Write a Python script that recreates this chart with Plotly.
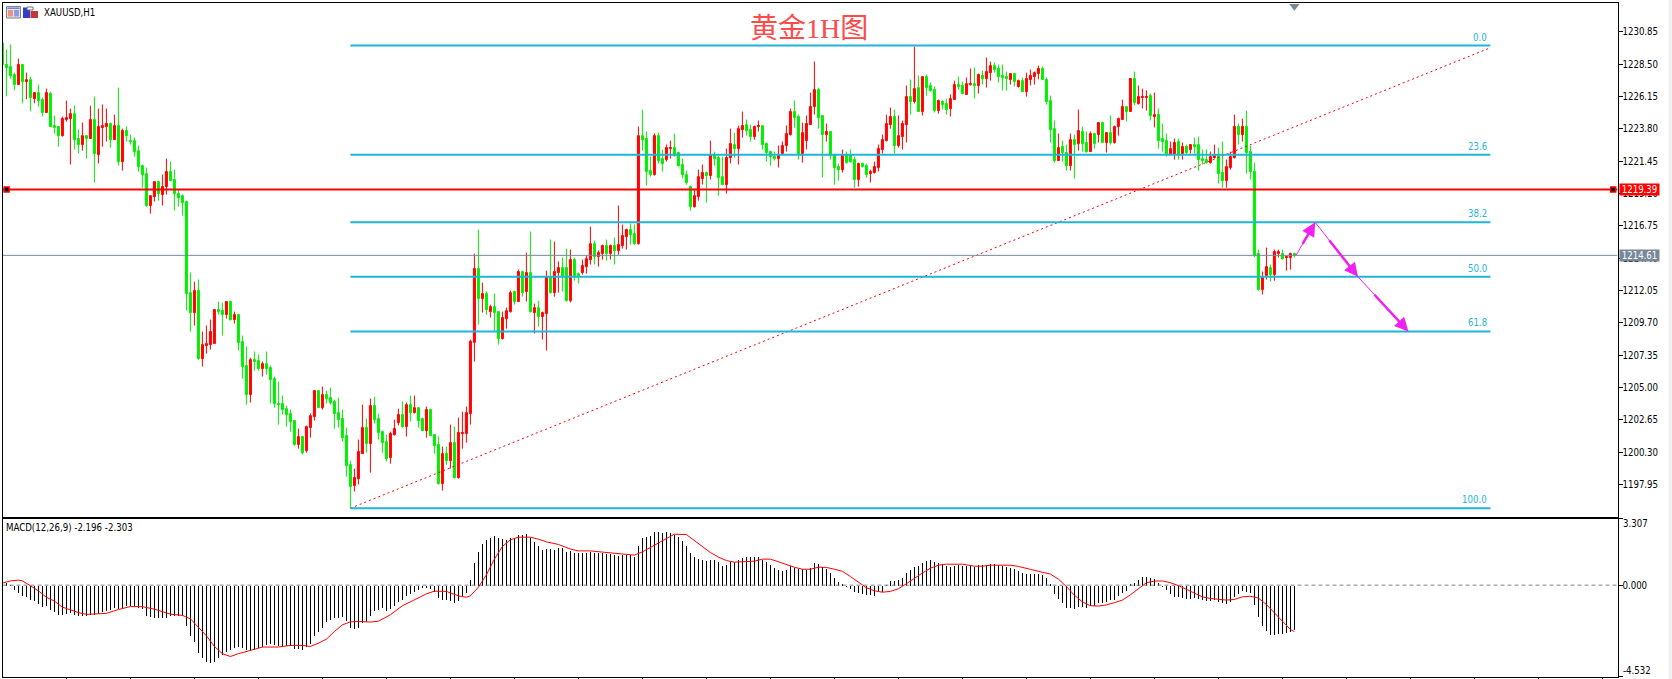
import plotly.graph_objects as go

WIDTH, HEIGHT = 1672, 679
PLOT_LEFT, PLOT_RIGHT = 2.5, 1617.5
MAIN_TOP, MAIN_BOTTOM = 2.5, 516.5
MACD_TOP, MACD_BOTTOM = 518.5, 676.5
LABEL_FONT = "DejaVu Sans Condensed, Liberation Sans, sans-serif"
LABEL_SIZE = 9.6

# Hourly XAUUSD candles, oldest first
opens = [
    1230.05,1228.48,1228.33,1227.75,1227.02,1228.48,1227.24,1227.38,1226.00,1226.44,
    1225.93,1224.99,1226.37,1224.04,1223.97,1223.31,1224.48,1224.55,1224.91,1223.10,
    1222.66,1223.31,1223.10,1224.48,1221.93,1223.90,1223.97,1224.19,1223.02,1224.04,
    1221.42,1223.68,1222.95,1222.95,1222.22,1221.13,1220.55,1218.23,1218.88,1219.97,
    1219.03,1219.61,1220.70,1220.12,1219.10,1218.95,1218.52,1211.90,1210.45,1212.05,
    1207.11,1208.05,1208.12,1208.20,1210.67,1210.60,1210.31,1211.25,1209.94,1210.31,
    1208.34,1206.60,1204.49,1207.03,1206.96,1206.38,1206.74,1206.45,1205.65,1203.84,
    1203.84,1203.47,1203.11,1202.60,1200.86,1201.44,1200.42,1202.09,1202.89,1204.78,
    1203.54,1204.49,1204.27,1203.98,1203.18,1202.75,1201.51,1199.40,1197.88,1198.38,
    1200.20,1202.09,1200.93,1203.69,1202.75,1201.80,1201.07,1199.91,1201.58,1202.45,
    1203.04,1202.16,1203.76,1203.18,1203.54,1202.75,1201.87,1203.40,1201.58,1200.86,
    1198.02,1200.20,1199.69,1201.00,1198.46,1201.66,1201.66,1203.11,1208.29,1213.65,
    1211.47,1211.83,1210.52,1210.88,1210.52,1208.56,1210.01,1210.52,1211.98,1211.25,
    1213.43,1211.98,1213.36,1210.45,1210.81,1210.16,1210.38,1213.07,1211.90,1213.36,
    1213.72,1213.72,1211.32,1214.30,1213.28,1213.36,1213.79,1214.30,1215.46,1214.52,
    1214.74,1215.32,1214.74,1215.32,1214.96,1215.32,1215.97,1216.48,1216.19,1215.46,
    1223.31,1223.10,1220.77,1220.48,1223.31,1221.64,1221.57,1222.37,1222.44,1222.08,
    1221.21,1220.48,1219.61,1218.15,1218.88,1220.19,1220.63,1220.41,1221.93,1221.72,
    1220.33,1219.75,1221.72,1222.66,1222.37,1223.75,1224.11,1223.75,1223.24,1223.97,
    1224.04,1222.73,1222.15,1221.79,1221.64,1222.01,1222.59,1223.39,1225.06,1224.70,
    1222.01,1222.95,1224.11,1225.42,1226.66,1224.77,1223.39,1223.61,1221.93,1221.06,
    1220.84,1221.93,1221.93,1221.57,1220.12,1221.28,1221.13,1220.55,1220.63,1220.99,
    1222.30,1222.95,1224.11,1224.70,1222.59,1223.24,1224.11,1226.15,1225.79,1226.80,
    1225.06,1227.60,1226.95,1226.66,1225.13,1225.79,1225.64,1225.28,1225.93,1227.02,
    1226.95,1226.30,1227.02,1227.09,1226.95,1227.68,1227.46,1227.89,1228.40,1228.19,
    1227.68,1227.60,1227.39,1227.82,1226.88,1227.31,1226.51,1227.39,1227.60,1227.82,
    1228.19,1227.39,1225.86,1223.82,1221.50,1222.52,1222.08,1221.13,1223.02,1222.73,
    1223.61,1222.81,1222.15,1223.46,1223.39,1224.26,1222.81,1223.53,1222.81,1223.97,
    1224.48,1225.42,1225.06,1227.46,1225.64,1226.08,1226.08,1226.22,1224.70,1224.84,
    1223.10,1222.95,1221.93,1221.93,1222.88,1222.01,1222.52,1222.30,1222.66,1222.66,
    1221.64,1221.57,1221.35,1221.72,1221.86,1220.63,1220.04,1220.99,1221.72,1223.97,
    1223.39,1223.97,1222.15,1220.70,1214.74,1212.12,1213.14,1213.72,1213.21,1214.74,
    1214.74,1214.45,1214.45,1214.74,
]
highs = [
    1231.99,1229.57,1229.93,1227.89,1228.91,1228.48,1227.89,1227.60,1226.44,1227.02,
    1226.08,1226.73,1226.51,1224.77,1223.97,1224.70,1225.86,1225.28,1225.49,1223.75,
    1224.26,1223.31,1225.49,1226.15,1225.28,1225.57,1225.28,1224.26,1224.84,1226.80,
    1223.82,1223.97,1223.39,1223.17,1222.59,1221.21,1220.99,1218.95,1219.97,1220.04,
    1220.48,1221.64,1221.42,1220.84,1219.39,1219.03,1218.59,1213.36,1212.70,1212.85,
    1209.07,1209.51,1209.94,1210.67,1211.25,1211.18,1211.25,1211.32,1210.52,1210.31,
    1208.78,1207.98,1207.18,1207.62,1207.40,1206.89,1207.62,1206.60,1205.80,1205.43,
    1204.42,1203.69,1203.40,1202.60,1202.02,1201.44,1202.24,1203.11,1204.78,1204.78,
    1205.07,1204.78,1205.00,1204.13,1204.27,1203.40,1202.09,1199.69,1199.11,1201.22,
    1203.76,1202.75,1204.20,1204.34,1203.11,1201.87,1201.58,1201.80,1202.67,1203.47,
    1203.98,1203.91,1204.42,1204.42,1203.54,1202.82,1203.62,1203.47,1201.58,1201.44,
    1200.71,1200.71,1202.31,1202.16,1202.82,1203.25,1203.62,1208.48,1214.74,1216.48,
    1212.63,1211.98,1211.03,1211.83,1210.52,1210.52,1210.81,1212.05,1212.05,1213.57,
    1213.50,1214.81,1216.34,1211.10,1211.32,1210.52,1213.50,1215.76,1215.61,1214.16,
    1214.45,1215.10,1215.03,1214.45,1213.36,1214.30,1214.59,1216.70,1215.68,1214.96,
    1215.39,1215.76,1215.39,1215.90,1218.23,1216.85,1216.55,1216.92,1216.85,1223.97,
    1225.20,1223.61,1221.79,1223.46,1223.53,1222.30,1222.66,1222.95,1223.46,1222.15,
    1221.64,1220.77,1219.68,1219.46,1220.84,1221.21,1220.70,1222.95,1222.15,1221.86,
    1221.79,1222.37,1223.82,1223.53,1224.04,1225.06,1224.48,1224.11,1224.04,1224.41,
    1224.04,1222.81,1222.22,1222.15,1222.59,1222.88,1224.04,1225.28,1225.86,1224.84,
    1224.26,1224.77,1226.44,1228.69,1226.80,1224.77,1224.19,1223.61,1221.93,1221.28,
    1222.30,1222.15,1222.30,1221.79,1221.35,1221.35,1221.28,1220.84,1221.42,1222.66,
    1223.39,1224.84,1225.35,1225.20,1224.77,1224.41,1226.95,1227.39,1229.78,1227.68,
    1227.60,1227.75,1227.17,1226.88,1225.93,1225.86,1226.00,1226.30,1227.31,1227.60,
    1227.24,1227.53,1228.19,1228.26,1227.82,1228.04,1228.98,1228.69,1228.62,1228.48,
    1228.48,1227.97,1227.82,1227.82,1227.39,1227.53,1227.89,1228.11,1227.97,1228.40,
    1228.33,1227.53,1226.22,1224.41,1223.46,1222.95,1222.66,1223.46,1223.39,1225.20,
    1223.97,1223.61,1223.61,1223.46,1224.26,1224.33,1223.53,1224.77,1224.04,1224.62,
    1225.93,1225.42,1227.46,1227.97,1226.95,1226.73,1226.59,1226.37,1226.44,1225.28,
    1224.19,1223.46,1222.88,1223.10,1223.10,1222.81,1222.66,1222.66,1223.17,1223.24,
    1222.30,1222.30,1222.15,1222.66,1222.44,1222.88,1221.57,1222.15,1224.84,1224.19,
    1224.55,1225.13,1222.59,1221.35,1215.03,1213.43,1215.17,1213.94,1215.03,1215.03,
    1215.03,1214.59,1214.81,1214.81,
]
lows = [
    1228.43,1226.17,1227.46,1226.61,1227.02,1225.66,1225.96,1225.08,1225.66,1225.42,
    1224.72,1224.99,1223.97,1223.46,1222.51,1223.24,1224.33,1221.21,1222.30,1222.01,
    1222.22,1221.64,1223.10,1219.90,1221.28,1222.51,1222.88,1222.44,1223.02,1221.13,
    1220.77,1222.88,1222.66,1221.79,1220.70,1219.53,1218.15,1217.64,1218.52,1218.59,
    1218.23,1219.03,1220.04,1217.86,1218.15,1217.50,1210.60,1209.07,1209.51,1207.03,
    1206.53,1207.47,1207.76,1208.20,1210.31,1208.78,1210.01,1209.87,1209.65,1207.69,
    1205.65,1203.76,1203.91,1206.23,1206.23,1205.80,1205.94,1203.84,1203.54,1202.31,
    1203.04,1202.16,1201.80,1200.78,1200.56,1200.13,1200.27,1201.36,1202.60,1203.54,
    1203.40,1203.84,1203.76,1202.02,1202.09,1201.07,1198.53,1196.23,1197.44,1197.95,
    1200.20,1200.27,1198.82,1202.38,1201.22,1200.27,1199.62,1199.47,1201.51,1202.24,
    1202.09,1201.44,1202.53,1203.11,1202.09,1201.87,1201.36,1201.51,1200.20,1197.95,
    1197.51,1199.40,1199.11,1198.38,1198.38,1200.56,1201.00,1202.31,1206.89,1209.58,
    1210.45,1210.30,1210.09,1209.07,1208.12,1208.49,1209.29,1210.45,1211.03,1211.25,
    1211.61,1211.25,1210.45,1208.92,1209.43,1208.49,1207.69,1211.83,1211.61,1211.90,
    1211.98,1211.25,1211.18,1212.77,1212.56,1213.21,1213.28,1213.94,1213.94,1213.79,
    1214.30,1214.23,1214.30,1213.94,1214.66,1215.10,1215.03,1215.39,1215.39,1215.39,
    1222.22,1219.68,1220.33,1220.41,1221.28,1220.70,1221.42,1221.64,1221.79,1221.06,
    1220.19,1219.75,1217.86,1218.08,1218.59,1219.75,1218.44,1220.12,1221.13,1218.95,
    1219.75,1219.10,1221.28,1221.72,1221.21,1223.17,1223.31,1222.88,1223.02,1223.61,
    1222.30,1221.42,1221.13,1221.50,1220.99,1221.93,1222.15,1223.31,1223.90,1221.57,
    1221.35,1222.30,1224.11,1224.84,1223.82,1220.26,1222.88,1221.57,1219.75,1220.04,
    1220.63,1221.28,1221.35,1219.53,1219.61,1220.99,1220.26,1219.90,1220.55,1220.70,
    1222.01,1222.88,1223.82,1222.01,1222.44,1222.30,1222.81,1224.84,1225.64,1225.06,
    1224.77,1226.22,1226.51,1224.99,1224.91,1225.20,1224.84,1224.70,1225.93,1226.66,
    1226.30,1226.30,1226.95,1226.00,1226.37,1227.02,1226.80,1227.31,1227.89,1227.17,
    1226.59,1226.59,1227.02,1226.88,1226.80,1226.51,1226.15,1226.95,1227.02,1227.39,
    1227.39,1225.57,1222.81,1221.35,1221.50,1221.42,1220.77,1220.77,1220.19,1222.22,
    1222.15,1222.08,1222.15,1222.37,1222.81,1222.81,1222.08,1222.66,1222.73,1223.31,
    1224.48,1224.33,1225.06,1225.50,1225.57,1225.28,1225.13,1224.41,1223.90,1222.37,
    1222.15,1221.79,1221.93,1221.57,1221.57,1221.57,1221.93,1222.01,1222.01,1220.77,
    1221.21,1221.28,1221.28,1221.64,1219.83,1219.53,1219.53,1220.84,1221.64,1222.66,
    1222.88,1220.55,1220.12,1214.49,1212.05,1211.76,1212.85,1212.70,1212.77,1214.45,
    1214.30,1213.50,1213.57,1214.45,
]
closes = [
    1228.48,1228.26,1227.68,1227.02,1228.48,1227.24,1227.38,1226.08,1226.44,1225.86,
    1224.99,1226.44,1223.97,1223.90,1223.31,1224.55,1224.62,1224.91,1223.02,1222.66,
    1223.31,1223.10,1224.48,1222.01,1223.97,1224.04,1224.19,1223.02,1224.04,1221.42,
    1223.68,1223.31,1222.88,1222.15,1221.06,1220.48,1218.23,1218.95,1219.97,1219.10,
    1219.61,1220.70,1220.04,1219.10,1218.81,1218.44,1211.83,1210.45,1212.05,1207.11,
    1208.12,1208.20,1209.07,1210.67,1210.52,1210.31,1211.25,1209.94,1210.31,1208.27,
    1206.53,1204.49,1207.03,1206.89,1206.38,1206.74,1206.38,1205.58,1203.84,1203.76,
    1203.40,1203.04,1202.53,1200.86,1201.44,1200.27,1202.16,1202.96,1204.78,1203.54,
    1204.49,1204.20,1203.91,1203.11,1202.67,1201.36,1199.33,1197.80,1198.46,1200.35,
    1202.09,1200.93,1203.69,1202.67,1201.73,1201.00,1199.84,1201.66,1202.02,1203.04,
    1202.16,1203.76,1203.18,1203.54,1202.60,1201.87,1203.40,1201.51,1200.78,1198.02,
    1200.20,1199.69,1201.00,1198.46,1201.73,1201.73,1203.18,1208.36,1213.65,1211.47,
    1211.83,1210.67,1210.88,1210.45,1208.56,1210.09,1210.59,1211.90,1211.25,1213.43,
    1211.90,1213.36,1210.52,1210.81,1210.16,1210.45,1213.07,1211.90,1213.43,1213.72,
    1213.07,1211.32,1214.30,1213.14,1213.07,1213.87,1214.37,1215.46,1214.52,1214.81,
    1215.32,1214.74,1215.32,1214.96,1215.39,1216.05,1216.48,1216.12,1215.46,1223.31,
    1223.02,1220.70,1220.48,1223.31,1221.50,1221.28,1222.44,1222.44,1221.86,1221.13,
    1220.48,1219.90,1218.15,1218.95,1220.33,1220.63,1220.41,1221.93,1221.64,1220.26,
    1219.75,1221.72,1222.73,1222.37,1223.82,1224.04,1223.68,1223.24,1223.97,1224.04,
    1222.66,1222.08,1221.79,1221.64,1221.93,1222.59,1223.46,1225.06,1224.62,1222.01,
    1223.53,1224.19,1225.42,1226.66,1224.62,1223.39,1223.61,1221.86,1220.99,1220.84,
    1221.86,1221.35,1221.42,1220.12,1221.28,1221.06,1220.48,1220.70,1221.06,1222.37,
    1223.02,1224.19,1224.70,1222.59,1223.31,1224.19,1226.15,1225.79,1226.73,1225.06,
    1227.60,1226.80,1226.59,1225.13,1225.86,1225.57,1225.20,1226.00,1227.02,1226.88,
    1226.37,1227.09,1227.09,1226.95,1227.75,1227.46,1227.97,1228.40,1228.11,1227.60,
    1227.53,1227.46,1227.82,1227.24,1227.31,1226.51,1227.46,1227.68,1227.89,1228.19,
    1227.39,1225.79,1223.75,1221.50,1222.44,1222.08,1221.13,1223.02,1222.66,1223.68,
    1222.73,1222.15,1223.46,1222.73,1224.26,1222.81,1223.53,1222.81,1223.97,1224.55,
    1225.42,1225.06,1227.46,1225.71,1226.15,1226.15,1226.15,1224.77,1224.84,1222.95,
    1222.88,1222.01,1222.37,1222.81,1221.93,1222.52,1222.08,1222.66,1222.52,1221.57,
    1221.50,1221.35,1221.79,1221.86,1220.55,1220.04,1221.06,1221.79,1223.97,1223.39,
    1223.97,1222.08,1220.70,1214.59,1212.12,1212.99,1213.79,1213.21,1214.88,1214.88,
    1214.37,1214.52,1214.74,1214.61,
]
bars = list(range(len(closes)))

# MACD(12,26,9) histogram, one value per candle
macd_hist = [
    0.07,0.13,0.02,-0.23,-0.36,-0.50,-0.56,-0.69,-0.76,-0.93,
    -1.06,-1.02,-1.22,-1.31,-1.47,-1.45,-1.42,-1.36,-1.47,-1.52,
    -1.49,-1.50,-1.44,-1.47,-1.39,-1.31,-1.26,-1.19,-1.09,-1.16,
    -1.09,-0.99,-1.02,-1.06,-1.09,-1.16,-1.49,-1.55,-1.59,-1.59,
    -1.62,-1.59,-1.52,-1.49,-1.49,-1.52,-2.02,-2.48,-2.78,-3.34,
    -3.60,-3.80,-3.84,-3.77,-3.57,-3.44,-3.27,-3.17,-3.11,-3.04,
    -3.11,-3.17,-3.24,-3.17,-3.11,-3.04,-2.94,-2.91,-2.94,-3.01,
    -3.04,-3.01,-2.98,-3.14,-3.14,-3.21,-3.04,-2.91,-2.51,-2.31,
    -2.08,-1.82,-1.69,-1.59,-1.59,-1.55,-1.75,-2.08,-2.15,-2.08,
    -1.85,-1.82,-1.49,-1.26,-1.19,-1.12,-1.26,-1.16,-1.02,-0.79,
    -0.69,-0.50,-0.40,-0.30,-0.23,-0.13,-0.10,-0.17,-0.30,-0.60,
    -0.69,-0.73,-0.76,-0.86,-0.76,-0.50,-0.36,0.26,1.12,1.65,
    2.05,2.25,2.38,2.45,2.38,2.31,2.28,2.35,2.38,2.51,
    2.51,2.55,2.35,2.15,1.95,1.79,1.82,1.82,1.79,1.85,
    1.85,1.65,1.72,1.64,1.60,1.60,1.62,1.65,1.62,1.62,
    1.64,1.59,1.55,1.50,1.45,1.52,1.52,1.52,1.42,1.95,
    2.35,2.40,2.45,2.65,2.65,2.60,2.65,2.60,2.50,2.40,
    2.20,1.95,1.60,1.41,1.31,1.26,1.21,1.26,1.26,1.16,
    0.96,1.01,1.16,1.16,1.26,1.36,1.41,1.41,1.41,1.41,
    1.26,1.16,1.01,0.86,0.76,0.71,0.76,0.96,0.86,0.81,
    0.81,0.76,0.86,1.11,1.06,0.91,0.81,0.61,0.36,0.17,
    0.07,-0.07,-0.15,-0.33,-0.36,-0.40,-0.45,-0.48,-0.53,-0.30,
    -0.30,0.01,0.21,0.21,0.26,0.36,0.61,0.76,0.91,0.96,
    1.11,1.21,1.26,1.16,1.11,1.06,0.96,0.91,0.96,1.01,
    0.96,0.96,0.96,0.91,1.01,1.01,1.01,1.06,1.06,1.01,
    0.96,0.91,0.86,0.81,0.71,0.61,0.56,0.56,0.56,0.56,
    0.51,0.36,0.07,-0.43,-0.68,-0.88,-1.12,-1.12,-1.17,-1.07,
    -1.07,-1.12,-1.02,-1.02,-0.88,-0.88,-0.83,-0.73,
    -0.71,-0.51,-0.38,-0.25,0.07,0.12,0.28,0.41,0.41,0.38,
    0.31,0.12,-0.08,-0.21,-0.41,-0.55,-0.55,-0.63,-0.68,-0.64,
    -0.60,-0.68,-0.71,-0.74,-0.74,-0.71,-0.81,-0.88,-0.91,-0.79,
    -0.55,-0.41,-0.25,-0.31,-0.38,-0.96,-1.54,-2.00,-2.23,-2.43,
    -2.43,-2.41,-2.40,-2.36,-2.30,-2.196,
]
hist_bars = list(range(len(macd_hist)))

# MACD signal line, read at these candles
signal_bars = [
    0,2,4,5,7,9,11,13,15,17,19,21,24,26,29,32,35,38,42,45,47,49,51,53,55,57,59,62,65,69,
    72,75,77,79,81,83,85,87,89,92,94,97,100,103,106,108,111,114,116,117,119,121,123,125,
    127,129,132,134,136,139,142,144,147,150,153,155,158,160,162,164,166,168,171,173,175,
    177,179,181,183,186,188,190,192,194,196,198,200,202,204,206,208,210,212,214,216,218,
    220,222,224,226,228,230,232,234,236,240,243,245,247,250,252,254,256,258,260,262,264,
    266,268,270,272,274,276,278,280,282,284,286,288,290,292,294,296,298,300,302,304,306,
    308,310,312,314,316,318,320,322,323,
]
signal_vals = [
    0.10,0.21,0.25,0.21,-0.03,-0.28,-0.60,-0.79,-1.09,-1.22,-1.36,-1.45,-1.44,-1.40,-1.21,
    -1.06,-1.07,-1.19,-1.44,-1.50,-1.67,-2.08,-2.51,-3.04,-3.40,-3.54,-3.40,-3.24,-3.07,-3.07,
    -2.99,-2.99,-3.04,-2.88,-2.68,-2.30,-1.97,-1.82,-1.80,-1.83,-1.79,-1.47,-1.02,-0.73,-0.43,
    -0.30,-0.31,-0.53,-0.60,-0.53,-0.10,0.51,1.29,1.92,2.25,2.38,2.38,2.28,2.15,2.02,
    1.79,1.70,1.70,1.64,1.57,1.54,1.49,1.65,1.87,2.08,2.33,2.53,2.51,2.21,1.92,
    1.62,1.39,1.22,1.14,1.16,1.19,1.29,1.29,1.16,1.01,0.89,0.79,0.79,0.89,0.88,0.79,0.69,
    0.43,0.13,-0.13,-0.28,-0.35,-0.31,-0.18,0.07,0.35,0.60,0.84,0.99,1.04,1.04,0.94,0.94,
    0.99,0.99,0.99,0.93,0.83,0.71,0.64,0.55,0.30,-0.07,-0.50,-0.83,-1.02,-1.04,-0.98,-0.87,
    -0.74,-0.48,-0.18,0.12,0.20,0.21,0.12,-0.02,-0.21,-0.41,-0.58,-0.66,-0.71,-0.74,-0.71,
    -0.58,-0.55,-0.64,-0.96,-1.37,-1.83,-2.20,-2.303,
]

# Fibonacci retracement drawn from the swing low to the swing high
fib_start_bar, fib_end_bar = 87, 372
fib_levels = ["0.0", "23.6", "38.2", "50.0", "61.8", "100.0"]
fib_prices = [1229.86, 1221.92, 1217.01, 1213.05, 1209.08, 1196.23]

trend_bars = [87, 372]
trend_prices = [1196.23, 1229.70]

resistance_price = 1219.39
last_price = 1214.61

# Projected path: bounce to 38.2, then down through 50.0 to 61.8
path_bars = [323.4, 328.2, 338.9, 351.5]
path_prices = [1214.61, 1217.01, 1213.05, 1209.07]

price_ticks = [1230.85, 1228.50, 1226.15, 1223.80, 1221.45, 1219.10, 1216.75, 1214.40,
               1212.05, 1209.70, 1207.35, 1205.00, 1202.65, 1200.30, 1197.95]
macd_ticks = [3.307, 0, -4.532]

X_PER_BAR = 4.0
X_ORIGIN = 2.4
x_range = [(PLOT_LEFT - X_ORIGIN) / X_PER_BAR, (PLOT_RIGHT - X_ORIGIN) / X_PER_BAR]
PRICE_SCALE = 0.07268
ANCHOR_PX = 31.9
price_range = [1230.85 - (MAIN_BOTTOM - ANCHOR_PX) * PRICE_SCALE, 1230.85 + (ANCHOR_PX - MAIN_TOP) * PRICE_SCALE]


def paper_x(px):
    return px / WIDTH


def paper_y(px):
    return 1 - px / HEIGHT


FIB_COLOR = "#1fb4d8"
SLATE = "#778899"
MAGENTA = "#f020f0"

fig = go.Figure()

fig.add_trace(go.Candlestick(
    x=bars, open=opens, high=highs, low=lows, close=closes,
    xaxis="x", yaxis="y",
    increasing=dict(line=dict(color="#ff0000", width=1), fillcolor="#ff0000"),
    decreasing=dict(line=dict(color="#00ee00", width=1), fillcolor="#00ee00"),
    whiskerwidth=0, showlegend=False, hoverinfo="skip",
))

fig.add_trace(go.Scatter(
    x=trend_bars, y=trend_prices, mode="lines", xaxis="x", yaxis="y",
    line=dict(color="#ff0000", width=1, dash="2px,3px"), showlegend=False, hoverinfo="skip",
))

for level, price in zip(fib_levels, fib_prices):
    fig.add_trace(go.Scatter(
        x=[fib_start_bar, fib_end_bar], y=[price, price], mode="lines", xaxis="x", yaxis="y",
        line=dict(color=FIB_COLOR, width=2), showlegend=False, hoverinfo="skip",
    ))

fig.add_trace(go.Scatter(
    x=x_range, y=[last_price, last_price], mode="lines", xaxis="x", yaxis="y",
    line=dict(color=SLATE, width=1), showlegend=False, hoverinfo="skip",
))
fig.add_trace(go.Scatter(
    x=x_range, y=[resistance_price, resistance_price], mode="lines", xaxis="x", yaxis="y",
    line=dict(color="#ff0000", width=2), showlegend=False, hoverinfo="skip",
))
# Drag handles on the horizontal line
fig.add_trace(go.Scatter(
    x=[1.05, 402.7], y=[resistance_price, resistance_price], mode="markers", xaxis="x", yaxis="y",
    marker=dict(symbol="square", size=5, color="#000000", line=dict(color="#ff0000", width=1.5)),
    showlegend=False, hoverinfo="skip",
))
# Current-bar marker on the top edge
fig.add_trace(go.Scatter(
    x=[bars[-1]], y=[1232.72], mode="markers", xaxis="x", yaxis="y",
    marker=dict(symbol="triangle-down", size=9, color=SLATE),
    showlegend=False, hoverinfo="skip",
))

# Thin projected path; the heavier arrows are added as annotations below
fig.add_trace(go.Scatter(
    x=path_bars, y=path_prices, mode="lines", xaxis="x", yaxis="y",
    line=dict(color=MAGENTA, width=1), showlegend=False, hoverinfo="skip",
))

# MACD panel: a translucent-by-a-hair fill keeps each bar snapped to one pixel
fig.add_trace(go.Bar(
    x=hist_bars, y=macd_hist, width=0.25, xaxis="x2", yaxis="y2",
    marker=dict(color="rgba(0,0,0,0.999)", line=dict(width=0)), showlegend=False, hoverinfo="skip",
))
fig.add_trace(go.Scatter(
    x=x_range, y=[0, 0], mode="lines", xaxis="x2", yaxis="y2",
    line=dict(color=SLATE, width=1, dash="4px,3px"), showlegend=False, hoverinfo="skip",
))
fig.add_trace(go.Scatter(
    x=signal_bars, y=signal_vals, mode="lines", xaxis="x2", yaxis="y2",
    line=dict(color="#ff0000", width=1), showlegend=False, hoverinfo="skip",
))

annotations = [
    dict(text="黄金1H图", xref="paper", yref="paper", x=paper_x(809), y=paper_y(28.5),
         xanchor="center", yanchor="middle", showarrow=False,
         font=dict(family="Liberation Serif, Noto Sans CJK SC, serif", size=28, color="#ff4a4a")),
    dict(text="XAUUSD,H1", xref="paper", yref="paper", x=paper_x(42), y=paper_y(12.5),
         xanchor="left", yanchor="middle", showarrow=False,
         font=dict(family=LABEL_FONT, size=LABEL_SIZE, color="#000000")),
    dict(text="MACD(12,26,9) -2.196 -2.303", xref="paper", yref="paper", x=paper_x(3.5), y=paper_y(527.5),
         xanchor="left", yanchor="middle", showarrow=False,
         font=dict(family=LABEL_FONT, size=LABEL_SIZE, color="#000000")),
    dict(text="3.307", xref="paper", yref="paper", x=paper_x(1621), y=paper_y(523.5),
         xanchor="left", yanchor="middle", showarrow=False,
         font=dict(family=LABEL_FONT, size=LABEL_SIZE, color="#000000")),
    dict(text="-4.532", xref="paper", yref="paper", x=paper_x(1621), y=paper_y(670.5),
         xanchor="left", yanchor="middle", showarrow=False,
         font=dict(family=LABEL_FONT, size=LABEL_SIZE, color="#000000")),
]

for level, price in zip(fib_levels, fib_prices):
    annotations.append(dict(
        text=level, xref="x", yref="y", x=fib_end_bar - 0.4, y=price,
        xanchor="right", yanchor="bottom", yshift=1, showarrow=False,
        font=dict(family=LABEL_FONT, size=LABEL_SIZE, color=FIB_COLOR),
    ))

for price, colour, label in [(resistance_price, "#ff0000", "1219.39"), (last_price, SLATE, "1214.61")]:
    annotations.append(dict(
        text=label, xref="paper", yref="y", x=paper_x(1639.5), y=price,
        xanchor="center", yanchor="middle", showarrow=False,
        width=39, height=11, bgcolor=colour, borderpad=0,
        font=dict(family=LABEL_FONT, size=LABEL_SIZE, color="#ffffff"),
    ))

# Heavier arrow along the last part of each leg of the path
for k in range(len(path_bars) - 1):
    x0, x1 = path_bars[k], path_bars[k + 1]
    y0, y1 = path_prices[k], path_prices[k + 1]
    annotations.append(dict(
        xref="x", yref="y", axref="x", ayref="y",
        x=x1, y=y1, ax=x0 + (x1 - x0) * 0.3, ay=y0 + (y1 - y0) * 0.3,
        showarrow=True, arrowhead=2, arrowsize=1.1, arrowwidth=2.5, arrowcolor=MAGENTA, text="",
    ))


def icon_rect(x0, y0, x1, y1, fill, line=None):
    return dict(
        type="rect", xref="paper", yref="paper",
        x0=paper_x(x0), x1=paper_x(x1), y0=paper_y(y0), y1=paper_y(y1),
        fillcolor=fill, line=dict(color=line or fill, width=1 if line else 0), layer="above",
    )


shapes = [
    # Window chrome at the right edge
    icon_rect(1668.5, 0, 1672, 679, "#f0f0f0"),
    # Chart-window icons beside the symbol name
    icon_rect(6.5, 6.5, 20.5, 18, "#e4e6f0", "#808080"),
    icon_rect(7.5, 7.5, 19.5, 9, "#6f80d8"),
    icon_rect(8, 10, 13, 16.5, "#f09080"),
    icon_rect(14, 10, 19, 16.5, "#8c9ce8"),
    icon_rect(23, 7.5, 30, 18, "#3040c8"),
    icon_rect(30.5, 11, 38, 18, "#c03838"),
    icon_rect(27, 7, 33, 10, "#ffffff", "#707070"),
]

common_x = dict(range=x_range, domain=[paper_x(PLOT_LEFT), paper_x(PLOT_RIGHT)], fixedrange=True,
                showgrid=False, zeroline=False, showline=True, linecolor="#000000", linewidth=1,
                mirror=True, showticklabels=False)

fig.update_layout(
    width=WIDTH, height=HEIGHT, autosize=False,
    margin=dict(l=0, r=0, t=0, b=0, pad=0),
    paper_bgcolor="#ffffff", plot_bgcolor="#ffffff",
    showlegend=False, hovermode=False, dragmode=False,
    boxgap=0.5, boxgroupgap=0, bargap=0,
    annotations=annotations, shapes=shapes,
    xaxis=dict(common_x, anchor="y", ticks="", rangeslider=dict(visible=False)),
    xaxis2=dict(common_x, anchor="y2", ticks="outside", ticklen=3, tickcolor="#000000", tickwidth=1,
                tickmode="array", tickvals=list(range(16, 404, 16))),
    yaxis=dict(
        anchor="x", side="right", range=price_range, fixedrange=True,
        domain=[paper_y(MAIN_BOTTOM), paper_y(MAIN_TOP)],
        showgrid=False, zeroline=False, showline=True, linecolor="#000000", linewidth=1, mirror=True,
        ticks="outside", ticklen=4, tickcolor="#000000", tickwidth=1, ticklabelstandoff=-2,
        tickmode="array", tickvals=price_ticks, ticktext=[f"{t:.2f}" for t in price_ticks],
        tickfont=dict(family=LABEL_FONT, size=LABEL_SIZE, color="#000000"),
    ),
    yaxis2=dict(
        anchor="x2", side="right", range=[-4.532, 3.307], fixedrange=True,
        domain=[paper_y(MACD_BOTTOM), paper_y(MACD_TOP)],
        showgrid=False, zeroline=False, showline=True, linecolor="#000000", linewidth=1, mirror=True,
        ticks="outside", ticklen=4, tickcolor="#000000", tickwidth=1, ticklabelstandoff=-2,
        tickmode="array", tickvals=macd_ticks, ticktext=["", "0.000", ""],
        tickfont=dict(family=LABEL_FONT, size=LABEL_SIZE, color="#000000"),
    ),
)

fig.write_html("out.html")
